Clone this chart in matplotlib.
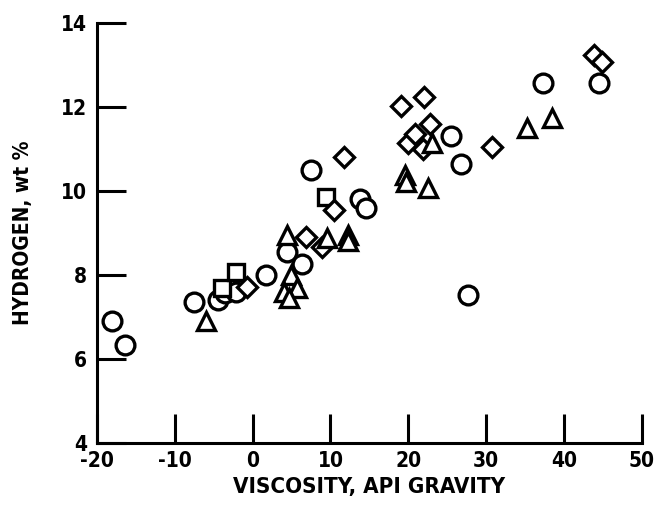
import matplotlib
matplotlib.use('Agg')
import matplotlib.pyplot as plt

plt.rcParams['font.family'] = ['DejaVu Sans']
plt.rcParams['font.stretch'] = 'condensed'
plt.rcParams['font.weight'] = 'bold'
plt.rcParams['axes.unicode_minus'] = False

# API gravity (x) vs hydrogen wt % (y), per marker type
circle_x = [-18.1, -16.4, -7.5, -4.5, -3.6, -2.1, 1.7, 4.4, 6.3, 7.5, 13.8, 14.6, 25.5, 26.7, 27.6, 37.3, 44.5]
circle_y = [6.9, 6.33, 7.35, 7.4, 7.57, 7.6, 8.0, 8.55, 8.27, 10.5, 9.8, 9.6, 11.3, 10.65, 7.52, 12.57, 12.57]

square_x = [-4.0, -2.1, 9.4]
square_y = [7.69, 8.07, 9.85]

diamond_x = [-0.7, 6.8, 8.9, 10.4, 11.7, 19.1, 22.0, 22.8, 20.0, 20.8, 21.9, 30.8, 43.9, 44.9]
diamond_y = [7.72, 8.9, 8.67, 9.55, 10.8, 12.02, 12.24, 11.6, 11.15, 11.35, 11.0, 11.05, 13.24, 13.07]

triangle_x = [-6.0, 4.4, 4.9, 5.7, 4.0, 4.7, 9.5, 12.3, 12.3, 19.6, 19.7, 22.5, 23.0, 35.2, 38.5]
triangle_y = [6.9, 8.95, 8.0, 7.7, 7.6, 7.45, 8.88, 8.95, 8.8, 10.38, 10.22, 10.07, 11.15, 11.5, 11.74]

x_ticks = [-20, -10, 0, 10, 20, 30, 40, 50]
y_ticks = [4, 6, 8, 10, 12, 14]

fig = plt.figure(figsize=(6.55, 5.11), dpi=100)
ax = fig.add_axes([0.148, 0.133, 0.832, 0.822])

style = dict(linestyle='none', markerfacecolor='white', markeredgecolor='black',
             markeredgewidth=2.4)
ax.plot(circle_x, circle_y, marker='o', markersize=13.5, **style)
ax.plot(square_x, square_y, marker='s', markersize=12, **style)
ax.plot(diamond_x, diamond_y, marker='D', markersize=10.5, **style)
ax.plot(triangle_x, triangle_y, marker='^', markersize=13, **style)

ax.set_xlim(-20, 50)
ax.set_ylim(4, 14)
ax.set_xticks(x_ticks)
ax.set_yticks(y_ticks)

for side in ['top', 'right']:
    ax.spines[side].set_visible(False)
for side in ['left', 'bottom']:
    ax.spines[side].set_linewidth(2.2)

ax.tick_params(direction='in', length=21, width=2.2, labelsize=15)
ax.tick_params(axis='y', pad=7)
ax.tick_params(axis='x', pad=6)

ax.set_xlabel('VISCOSITY, API GRAVITY', fontsize=16, fontweight='bold')
ax.set_ylabel('HYDROGEN, wt %', fontsize=15, fontweight='bold')
ax.xaxis.set_label_coords(0.5, -0.08)
ax.yaxis.set_label_coords(-0.118, 0.5)

fig.savefig('out.png', dpi=100)
